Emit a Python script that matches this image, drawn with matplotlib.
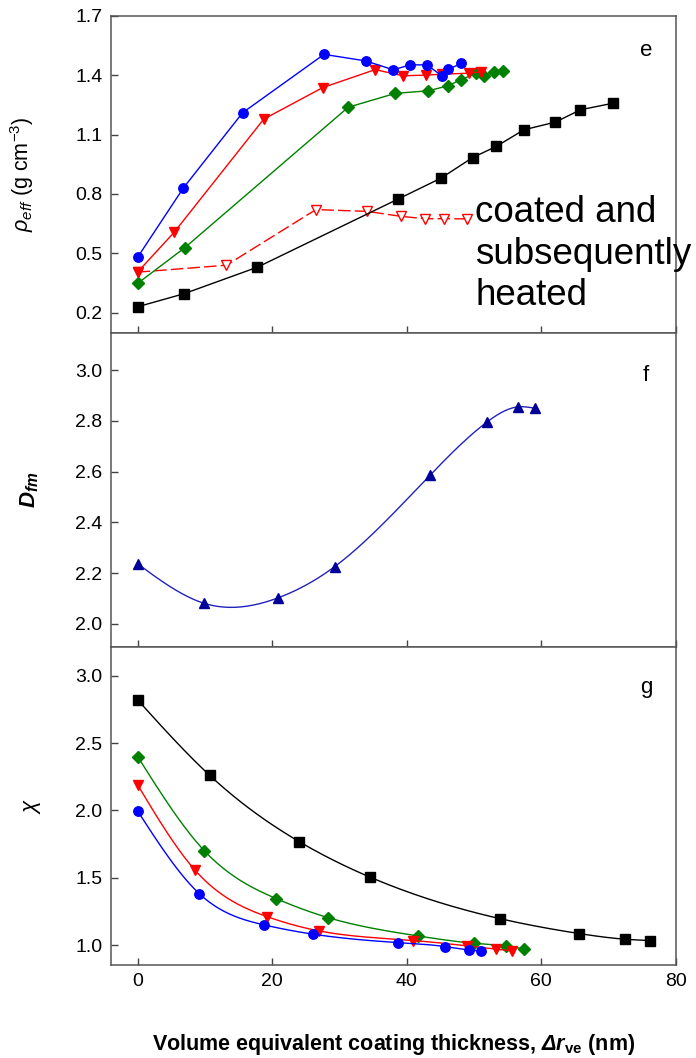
import numpy as np
import matplotlib
matplotlib.use('Agg')
import matplotlib.pyplot as plt

plt.rcParams['font.family'] = ['Liberation Sans', 'DejaVu Sans']
plt.rcParams['mathtext.fontset'] = 'custom'
plt.rcParams['mathtext.rm'] = 'Liberation Sans'
plt.rcParams['mathtext.it'] = 'Liberation Sans:italic'
plt.rcParams['mathtext.bf'] = 'Liberation Sans:bold'
plt.rcParams['mathtext.bfit'] = 'Liberation Sans:bold:italic'

# panel e: effective density vs coating thickness
rho_blue_x = [0, 6.8, 15.6, 27.7, 33.9, 38.0, 40.5, 43.0, 45.2, 46.2, 48.1]
rho_blue_y = [0.48, 0.83, 1.21, 1.505, 1.472, 1.427, 1.452, 1.452, 1.397, 1.430, 1.459]
rho_red_x = [0, 5.45, 18.75, 27.5, 35.3, 39.4, 42.8, 45.3, 49.3, 51.0]
rho_red_y = [0.405, 0.607, 1.178, 1.337, 1.428, 1.397, 1.400, 1.405, 1.410, 1.417]
rho_green_x = [0, 7.0, 31.3, 38.3, 43.2, 46.1, 48.0, 50.3, 51.5, 53.0, 54.3]
rho_green_y = [0.348, 0.528, 1.238, 1.308, 1.321, 1.346, 1.376, 1.410, 1.397, 1.417, 1.420]
rho_black_x = [0, 6.9, 17.8, 38.7, 45.1, 49.8, 53.3, 57.4, 62.1, 65.8, 70.6]
rho_black_y = [0.230, 0.296, 0.430, 0.774, 0.880, 0.984, 1.040, 1.124, 1.163, 1.225, 1.258]
rho_heated_x = [0, 13.2, 26.5, 34.1, 39.1, 42.7, 45.5, 48.9]
rho_heated_y = [0.405, 0.440, 0.721, 0.712, 0.687, 0.675, 0.675, 0.674]

# panel f: fractal dimension
dfm_x = [0, 9.8, 20.9, 29.3, 43.5, 51.9, 56.5, 59.0]
dfm_y = [2.237, 2.082, 2.103, 2.226, 2.587, 2.795, 2.855, 2.850]

# panel g: dynamic shape factor
chi_black_x = [0, 10.7, 24.0, 34.6, 53.8, 65.6, 72.4, 76.2]
chi_black_y = [2.82, 2.261, 1.769, 1.504, 1.198, 1.087, 1.045, 1.035]
chi_green_x = [0, 9.9, 20.6, 28.3, 41.7, 50.0, 54.7, 57.4]
chi_green_y = [2.40, 1.702, 1.346, 1.205, 1.069, 1.015, 0.995, 0.973]
chi_red_x = [0, 8.5, 19.2, 27.0, 41.0, 49.0, 53.3, 55.7]
chi_red_y = [2.19, 1.559, 1.213, 1.106, 1.035, 0.995, 0.970, 0.958]
chi_blue_x = [0, 9.2, 18.8, 26.1, 38.7, 45.7, 49.2, 51.0]
chi_blue_y = [1.996, 1.381, 1.151, 1.082, 1.020, 0.990, 0.965, 0.958]

x_ticks = [0, 20, 40, 60, 80]
BLUE, RED, GREEN, BLACK, NAVY = '#0000ff', '#ff0000', '#008000', '#000000', '#000099'
MS = 6.8
LW = 1.0


def spline(x, y, n=200):
	''' natural cubic spline through the points, for drawing the smooth curve '''
	x, y = np.asarray(x, float), np.asarray(y, float)
	k = len(x)
	h = np.diff(x)
	A = np.zeros((k, k))
	b = np.zeros(k)
	A[0, 0] = A[-1, -1] = 1
	for i in range(1, k - 1):
		A[i, i-1], A[i, i], A[i, i+1] = h[i-1], 2 * (h[i-1] + h[i]), h[i]
		b[i] = 3 * ((y[i+1] - y[i]) / h[i] - (y[i] - y[i-1]) / h[i-1])
	c = np.linalg.solve(A, b)
	xs = np.linspace(x[0], x[-1], n)
	idx = np.clip(np.searchsorted(x, xs) - 1, 0, k - 2)
	dx = xs - x[idx]
	bb = (y[idx+1] - y[idx]) / h[idx] - h[idx] * (2 * c[idx] + c[idx+1]) / 3
	dd = (c[idx+1] - c[idx]) / (3 * h[idx])
	return xs, y[idx] + bb * dx + c[idx] * dx**2 + dd * dx**3


def style_axis(ax, ylim, yticks, letter, ly):
	ax.set_xlim(-4, 80)
	ax.set_ylim(*ylim)
	ax.set_xticks(x_ticks)
	ax.set_yticks(yticks)
	ax.tick_params(direction='in', length=5, width=1, labelsize=14, color='#444444', pad=6)
	for s in ax.spines.values():
		s.set_color('#555555')
		s.set_linewidth(1.1)
	ax.text(0.947, ly, letter, transform=ax.transAxes, fontsize=16, ha='center', va='center')


fig = plt.figure(figsize=(6.96, 10.58), dpi=100)
ax_e = fig.add_axes([0.159, 0.6857, 0.8122, 0.2994])
ax_f = fig.add_axes([0.159, 0.3882, 0.8122, 0.2975])
ax_g = fig.add_axes([0.159, 0.0882, 0.8122, 0.3000])

# e
ax_e.plot(rho_heated_x, rho_heated_y, color=RED, lw=LW, dashes=(9, 3), marker='v', ms=MS,
	mfc='white', mec=RED, mew=1.0)
ax_e.plot(rho_black_x, rho_black_y, color=BLACK, lw=LW, marker='s', ms=MS)
ax_e.plot(rho_green_x, rho_green_y, color=GREEN, lw=LW, marker='D', ms=MS - 0.5)
ax_e.plot(rho_red_x, rho_red_y, color=RED, lw=LW, marker='v', ms=MS + 0.5)
ax_e.plot(rho_blue_x, rho_blue_y, color=BLUE, lw=LW, marker='o', ms=MS)
style_axis(ax_e, (0.1, 1.7), [0.2, 0.5, 0.8, 1.1, 1.4, 1.7], 'e', 0.89)
ax_e.tick_params(labelbottom=False)
ax_e.set_ylabel(r'$\rho_{eff}$ (g cm$^{-3}$)', fontsize=15.5, va='center')
ax_e.yaxis.set_label_coords(-0.157, 0.5)
ax_e.text(50.2, 0.237, 'coated and\nsubsequently\nheated', fontsize=26.5, ha='left',
	va='baseline', linespacing=1.24)

# f
ax_f.plot(*spline(dfm_x, dfm_y), color='#2222bb', lw=LW)
ax_f.plot(dfm_x, dfm_y, ls='none', marker='^', ms=MS + 0.5, color=NAVY)
style_axis(ax_f, (1.908, 3.148), [2.0, 2.2, 2.4, 2.6, 2.8, 3.0], 'f', 0.865)
ax_f.tick_params(labelbottom=False)
ax_f.set_ylabel(r'$\mathbfit{D}_{\mathbfit{fm}}$', fontsize=16, va='center')
ax_f.yaxis.set_label_coords(-0.143, 0.5)

# g
for xs, ys, c, m in [(chi_black_x, chi_black_y, BLACK, 's'), (chi_green_x, chi_green_y, GREEN, 'D'),
		(chi_red_x, chi_red_y, RED, 'v'), (chi_blue_x, chi_blue_y, BLUE, 'o')]:
	ax_g.plot(*spline(xs, ys), color=c, lw=LW)
	ax_g.plot(xs, ys, ls='none', marker=m, ms=MS - 0.5 if m == 'D' else MS, color=c)
style_axis(ax_g, (0.856, 3.21), [1.0, 1.5, 2.0, 2.5, 3.0], 'g', 0.872)
ax_g.set_ylabel(r'$\chi$', fontsize=16, va='center')
ax_g.yaxis.set_label_coords(-0.139, 0.5)
ax_g.set_xlabel(r'Volume equivalent coating thickness, $\mathbfit{\Delta r}_{\mathbf{ve}}$ (nm)',
	fontsize=15.5, fontweight='bold', labelpad=30)

fig.savefig('out.png', dpi=100)
